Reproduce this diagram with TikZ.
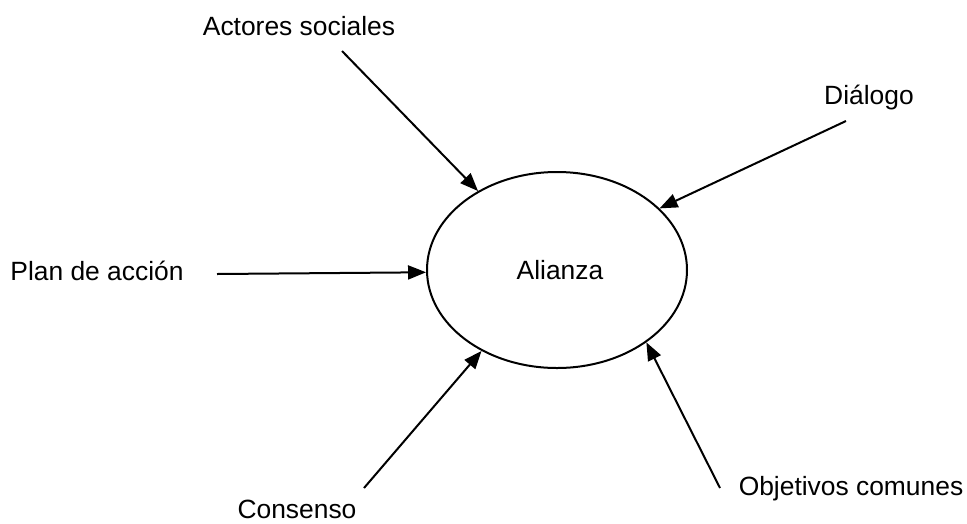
\documentclass[tikz,border=0pt]{standalone}
\usepackage{fontspec}
\setmainfont{Liberation Sans}
\usetikzlibrary{arrows.meta,shapes.geometric}
\begin{document}
\begin{tikzpicture}[x=1pt,y=-1pt,
  lbl/.style={anchor=base,inner sep=0pt,font=\fontsize{26.4}{30}\selectfont},
  conn/.style={line width=2pt,-{Triangle[length=18pt,width=14pt]}},
  hub/.style={ellipse,draw,line width=2pt,minimum width=260pt,minimum height=196pt,inner sep=0pt,font=\fontsize{26.4}{30}\selectfont}]
\useasboundingbox (0,0) rectangle (967,523);
\node[hub] (alianza) at (557,270) {};
\node[lbl] (alianzatxt) at (560,279) {Alianza};
\node[lbl] (actores) at (299,35) {Actores sociales};
\node[lbl] (dialogo) at (869,104) {Diálogo};
\node[lbl] (plan) at (97,280) {Plan de acción};
\node[lbl] (consenso) at (297,518) {Consenso};
\node[lbl] (objetivos) at (851,495) {Objetivos comunes};
\coordinate (sa) at (342,51);
\coordinate (sd) at (846,121);
\coordinate (sp) at (217,274);
\coordinate (sc) at (364,488);
\coordinate (so) at (720,488);
\draw[conn] (sa) -- (alianza.135.4);
\draw[conn] (sd) -- (alianza.31.5);
\draw[conn] (sp) -- (alianza.181.8);
\draw[conn] (sc) -- (alianza.227.5);
\draw[conn] (so) -- (alianza.321.7);
\end{tikzpicture}
\end{document}
